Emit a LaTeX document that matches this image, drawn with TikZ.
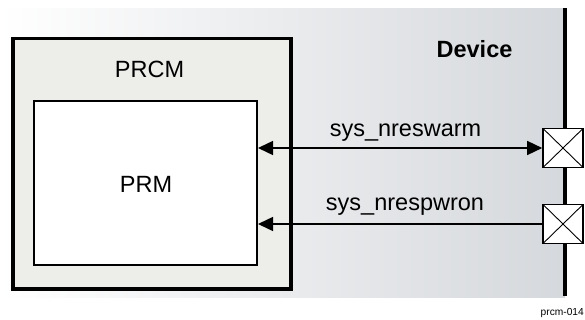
\documentclass[tikz,border=0pt]{standalone}
\usepackage{fontspec}
\setmainfont{Liberation Sans}
\usetikzlibrary{arrows.meta}
\definecolor{bgright}{HTML}{D5D8DC}
\definecolor{prcmfill}{HTML}{EDEDE9}
\tikzset{
  blk/.style={draw=black, rectangle, inner sep=0pt},
  lbl/.style={font=\fontsize{23.5}{27}\selectfont, inner sep=0pt, anchor=base},
  pin/.style={draw=black, fill=white, line width=1.6pt, rectangle, inner sep=0pt,
    minimum width=40pt, minimum height=39pt,
    path picture={\draw[line width=0.9pt] (path picture bounding box.south west) -- (path picture bounding box.north east)
      (path picture bounding box.north west) -- (path picture bounding box.south east);}},
  sig/.style={line width=1.4pt, draw=black},
  ptip/.tip={Triangle[length=15pt, width=14pt]}
}
\begin{document}
\begin{tikzpicture}[x=1pt,y=-1pt]
\useasboundingbox (0,0) rectangle (585,320);
\shade[left color=white, right color=bgright] (0,9) rectangle (565,297);
\node[blk, line width=3.5pt, fill=prcmfill, minimum width=278pt, minimum height=250.5pt] (prcm) at (152,163.75) {};
\node[blk, line width=2pt, fill=white, minimum width=223pt, minimum height=164pt] (prm) at (145.5,183) {};
\node[lbl] (prcmlbl) at (149.5,78) {PRCM};
\node[lbl] (prmlbl) at (146,193) {PRM};
\node[lbl, font=\fontsize{23.5}{27}\selectfont\bfseries] (dev) at (474.5,58) {Device};
\coordinate (dtop) at (565,8);
\coordinate (dbot) at (565,296);
\draw[line width=4pt] (dtop) -- (dbot);
\node[pin] (pin1) at (563,148) {};
\node[pin] (pin2) at (563,224) {};
\draw[sig, ptip-ptip] (prm.east |- pin1.west) -- (pin1.west);
\draw[sig, ptip-] (prm.east |- pin2.west) -- (pin2.west);
\node[lbl] (s1) at (405.5,137) {sys\_nreswarm};
\node[lbl] (s2) at (405,211) {sys\_nrespwron};
\node[font=\fontsize{10.2}{12}\selectfont, inner sep=0pt, anchor=base east] (fig) at (584,315) {prcm-014};
\end{tikzpicture}
\end{document}
